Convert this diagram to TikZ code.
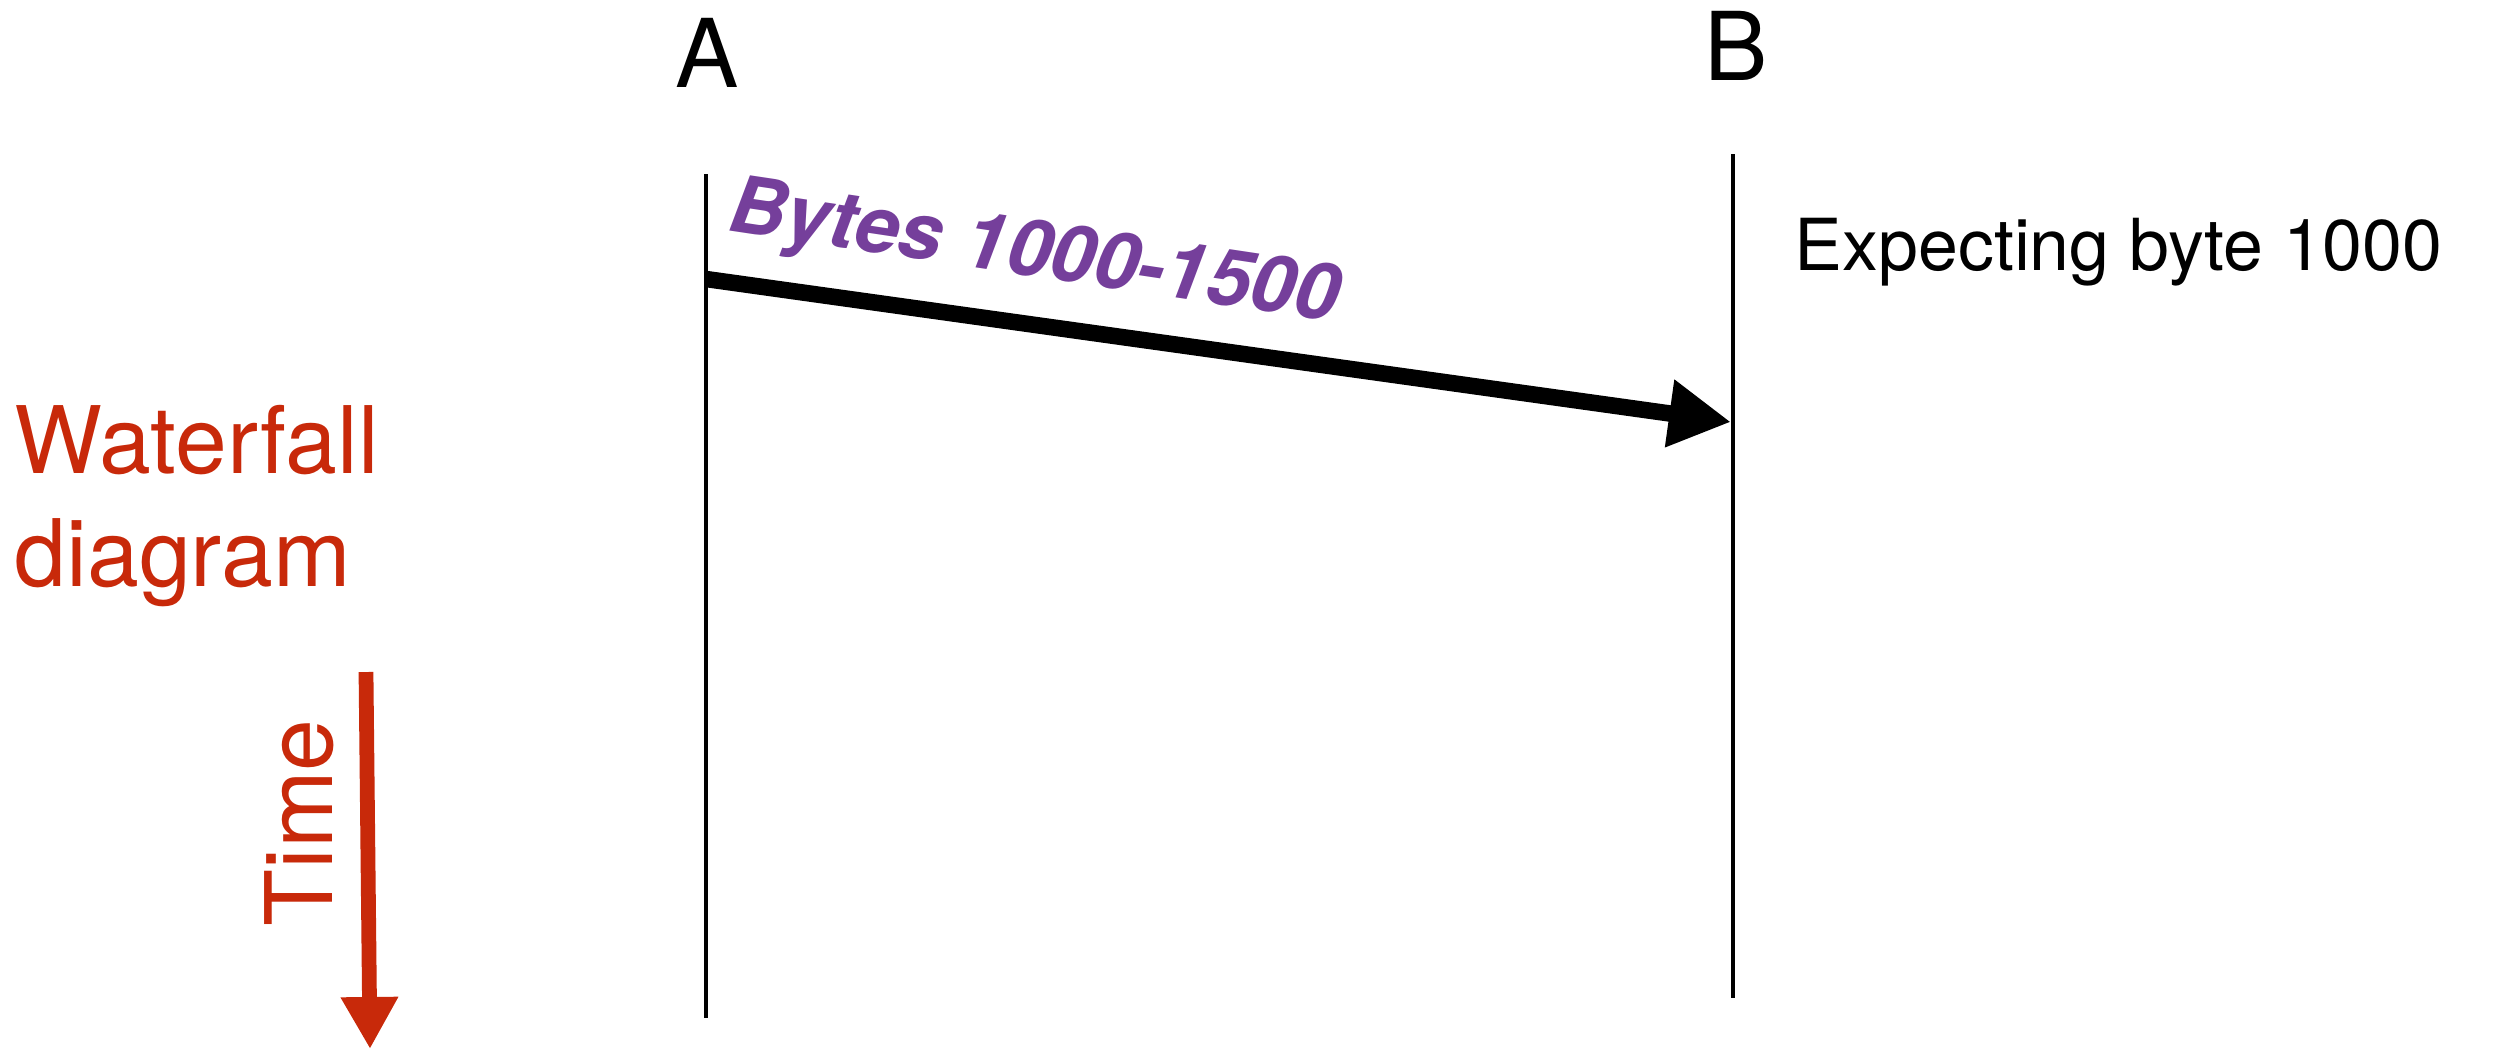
\documentclass[tikz,border=0pt]{standalone}
\usepackage{fontspec}
\setmainfont{TeX Gyre Heros}
\usetikzlibrary{arrows.meta}
\definecolor{wfred}{HTML}{C8290A}
\definecolor{wfpurple}{HTML}{753F9B}
\tikzset{
  lifeline/.style={line width=1.15pt,draw=black},
  hostlabel/.style={font=\fontsize{27}{32}\selectfont,anchor=base,inner sep=0pt},
  segarrow/.style={-{Triangle[length=0.62cm,width=0.64cm]},line width=4.7pt,draw=black},
  seglabel/.style={font=\fontsize{22.5}{26}\selectfont\bfseries\itshape,
                   text=wfpurple,inner sep=0pt},
  notelabel/.style={font=\fontsize{20.4}{24}\selectfont,anchor=base west,inner sep=0pt},
  redlabel/.style={font=\fontsize{26.5}{31.9}\selectfont,text=wfred,inner sep=0pt},
  timearrow/.style={-{Triangle[length=0.52cm,width=0.54cm]},line width=4.2pt,draw=wfred},
}

\begin{document}
\begin{tikzpicture}[x=0.01cm,y=-0.01cm]
  \useasboundingbox (0,0) rectangle (2509,1050);
  % the two hosts and their lifelines
  \node[hostlabel] (hostA) at (707,87) {A};
  \node[hostlabel] (hostB) at (1736,80) {B};
  \coordinate (Atop) at (706,174);
  \coordinate (Abot) at (706,1018);
  \coordinate (Btop) at (1733,154);
  \coordinate (Bbot) at (1733,998);
  \draw[lifeline] (Atop) -- (Abot);
  \draw[lifeline] (Btop) -- (Bbot);
  % one segment sent from A to B
  \coordinate (Asend) at (706,279);
  \coordinate (Brecv) at (1731,422);
  \draw[segarrow] (Asend) -- (Brecv)
    node[seglabel,pos=0.31,sloped,above=0.22cm,rotate=-0.6] (seg) {Bytes 1000-1500};
  \node[notelabel] (expect) at (1794,270) {Expecting byte 1000};
  % legend on the left: time runs downwards
  \node[redlabel,anchor=north west,align=left] (wfall) at (14,405) {Waterfall\\diagram};
  \coordinate (ttop) at (366,672);
  \coordinate (tend) at (370,1049);
  \draw[timearrow] (ttop) -- (tend);
  \node[redlabel,rotate=90,anchor=base] (timelbl) at (332,823) {Time};
\end{tikzpicture}
\end{document}
